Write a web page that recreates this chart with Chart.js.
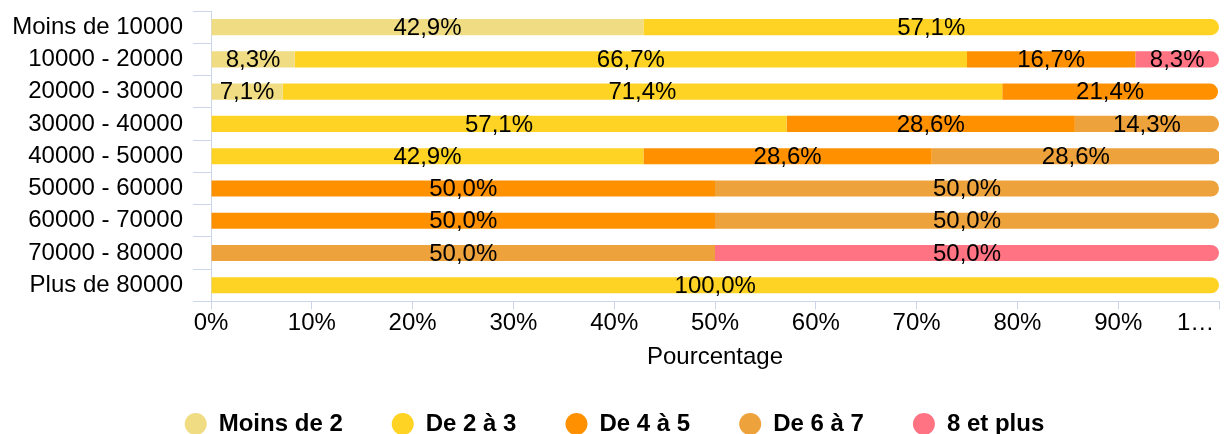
<!DOCTYPE html>
<html>
<head>
<meta charset="utf-8">
<script src="https://cdn.jsdelivr.net/npm/chart.js@4"></script>
<style>
html,body{margin:0;padding:0;background:#fff;}
#wrap{width:1225px;height:434px;}
</style>
</head>
<body>
<div id="wrap"><canvas id="c" width="1225" height="434"></canvas></div>
<script>
const categories = ['Moins de 10000','10000 - 20000','20000 - 30000','30000 - 40000','40000 - 50000','50000 - 60000','60000 - 70000','70000 - 80000','Plus de 80000'];
const seriesNames = ['Moins de 2','De 2 à 3','De 4 à 5','De 6 à 7','8 et plus'];
const moinsDe2 = [42.9, 8.3, 7.1, null, null, null, null, null, null];
const de2a3    = [57.1, 66.7, 71.4, 57.1, 42.9, null, null, null, 100.0];
const de4a5    = [null, 16.7, 21.4, 28.6, 28.6, 50.0, 50.0, null, null];
const de6a7    = [null, null, null, 14.3, 28.6, 50.0, 50.0, 50.0, null];
const huitPlus = [null, 8.3, null, null, null, null, null, 50.0, null];
const xTicks = [0,10,20,30,40,50,60,70,80,90,100];
const colors = ['#f0dc82','#ffd324','#ff9000','#eda23c','#ff7383'];

const FONT = "'Liberation Sans', Arial, sans-serif";
const seriesData = [moinsDe2, de2a3, de4a5, de6a7, huitPlus];

const labelPlugin = {
  id: 'barLabels',
  afterDatasetsDraw(chart) {
    const ctx = chart.ctx;
    ctx.save();
    ctx.font = '24px ' + FONT;
    ctx.fillStyle = '#000';
    ctx.textAlign = 'center';
    ctx.textBaseline = 'middle';
    chart.data.datasets.forEach((ds, di) => {
      const meta = chart.getDatasetMeta(di);
      meta.data.forEach((el, i) => {
        const v = ds.data[i];
        if (v == null) return;
        const cx = (el.x + el.base) / 2;
        ctx.fillText(v.toFixed(1).replace('.', ',') + '%', cx, el.y + 1);
      });
    });
    ctx.restore();
  }
};

Chart.defaults.font.family = FONT;
Chart.defaults.color = '#000';

new Chart(document.getElementById('c'), {
  type: 'bar',
  data: {
    labels: categories,
    datasets: seriesData.map((d, i) => ({
      label: seriesNames[i],
      data: d,
      backgroundColor: colors[i],
      borderWidth: 0,
      borderRadius: 8,
      barPercentage: 1,
      categoryPercentage: 0.5
    }))
  },
  options: {
    indexAxis: 'y',
    responsive: false,
    animation: false,
    layout: { padding: { top: 11, right: 6, left: 10, bottom: -12 } },
    scales: {
      x: {
        stacked: true,
        min: 0,
        max: 100,
        afterBuildTicks(scale) { scale.ticks = xTicks.map(v => ({ value: v })); },
        afterFit(scale) { scale.paddingRight = 0; },
        grid: { drawOnChartArea: false, tickLength: 8, color: '#ccd6eb', lineWidth: 1 },
        border: { color: '#ccd6eb', width: 1 },
        ticks: {
          font: { size: 24 },
          color: '#000',
          padding: 0,
          maxRotation: 0,
          autoSkip: false,
          callback: (v) => v === 100 ? '1…       ' : v + '%'
        },
        title: { display: true, text: 'Pourcentage', font: { size: 24 }, color: '#000', padding: { top: 5, bottom: -9 } }
      },
      y: {
        stacked: true,
        afterFit(scale) { scale.width = 201; scale.paddingTop = 0; scale.paddingBottom = 0; },
        grid: { drawOnChartArea: false, tickLength: 18, color: '#ccd6eb', offset: true },
        border: { color: '#ccd6eb', width: 1 },
        ticks: { font: { size: 24 }, color: '#000', padding: 10, autoSkip: false }
      }
    },
    plugins: {
      legend: {
        position: 'bottom',
        labels: {
          usePointStyle: true,
          pointStyle: 'circle',
          boxWidth: 22,
          boxHeight: 15.6,
          pointStyleWidth: 22,
          padding: 49,
          font: { size: 24, weight: 'bold' },
          color: '#000'
        }
      },
      tooltip: { enabled: false }
    }
  },
  plugins: [labelPlugin]
});
</script>
</body>
</html>
